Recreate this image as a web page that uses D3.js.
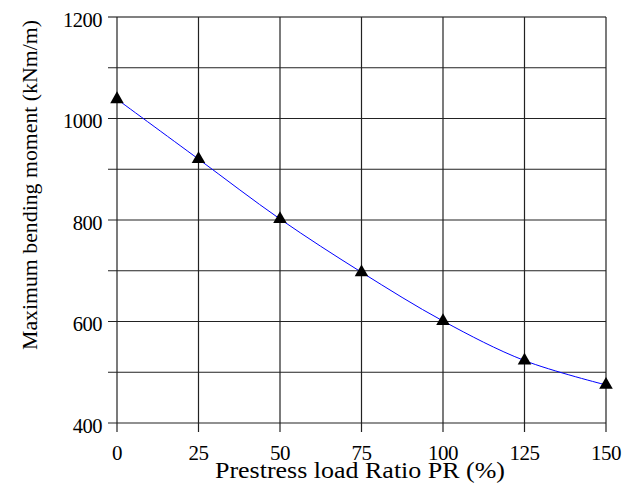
<!DOCTYPE html>
<html>
<head>
<meta charset="utf-8">
<script src="https://cdn.jsdelivr.net/npm/d3@7"></script>
<style>
  body { margin: 0; background: #fff; }
  svg { display: block; font-family: "Liberation Serif", "Times New Roman", serif; }
</style>
</head>
<body>
<svg class="chart" width="638" height="493"></svg>
<script>
const ratio = [0, 25, 50, 75, 100, 125, 150];
const moment = [1038, 920, 802, 697, 601, 523, 475];
const xTicks = [0, 25, 50, 75, 100, 125, 150];
const yTicks = [400, 600, 800, 1000, 1200];
const yGrid = [400, 500, 600, 700, 800, 900, 1000, 1100, 1200];

const svg = d3.select('.chart');
const m = { left: 117, right: 606, top: 17, bottom: 423 };

const x = d3.scaleLinear().domain([0, 150]).range([m.left, m.right]);
const y = d3.scaleLinear().domain([400, 1200]).range([m.bottom, m.top]);

// grid
svg.append('g')
    .selectAll('line')
    .data(yGrid)
    .join('line')
    .attr('x1', m.left - 9).attr('x2', m.right)
    .attr('y1', d => y(d)).attr('y2', d => y(d))
    .attr('stroke', d => d == 1200 ? '#808080' : '#222')
    .attr('stroke-width', d => d == 1200 ? 2 : 1.2);

svg.append('g')
    .selectAll('line')
    .data(xTicks)
    .join('line')
    .attr('x1', d => x(d)).attr('x2', d => x(d))
    .attr('y1', m.top).attr('y2', m.bottom + 9)
    .attr('stroke', '#222')
    .attr('stroke-width', 1.2);

// axis labels
svg.append('g')
    .selectAll('text')
    .data(yTicks)
    .join('text')
    .attr('x', 102)
    .attr('y', d => y(d) + 9.5)
    .attr('text-anchor', 'end')
    .attr('font-size', 20.5)
    .attr('letter-spacing', -0.5)
    .text(d => d);

svg.append('g')
    .selectAll('text')
    .data(xTicks)
    .join('text')
    .attr('x', d => x(d))
    .attr('y', 460)
    .attr('text-anchor', 'middle')
    .attr('font-size', 21)
    .attr('letter-spacing', -0.5)
    .text(d => d);

svg.append('text')
    .attr('x', 215)
    .attr('y', 478)
    .attr('font-size', 23)
    .attr('textLength', 290)
    .attr('lengthAdjust', 'spacingAndGlyphs')
    .text('Prestress load Ratio PR (%)');

svg.append('text')
    .attr('transform', 'translate(37, 350) rotate(-90)')
    .attr('font-size', 22)
    .attr('textLength', 330)
    .attr('lengthAdjust', 'spacingAndGlyphs')
    .text('Maximum bending moment (kNm/m)');

// series
const pts = ratio.map((r, i) => [r, moment[i]]);

const line = d3.line()
    .x(d => x(d[0]))
    .y(d => y(d[1]))
    .curve(d3.curveCatmullRom);

svg.append('path')
    .datum(pts)
    .attr('d', line)
    .attr('fill', 'none')
    .attr('stroke', '#0000ff')
    .attr('stroke-width', 1);

svg.append('g')
    .selectAll('path')
    .data(pts)
    .join('path')
    .attr('transform', d => `translate(${x(d[0])},${y(d[1])})`)
    .attr('d', d3.symbol(d3.symbolTriangle, 80))
    .attr('fill', '#000');
</script>
</body>
</html>
